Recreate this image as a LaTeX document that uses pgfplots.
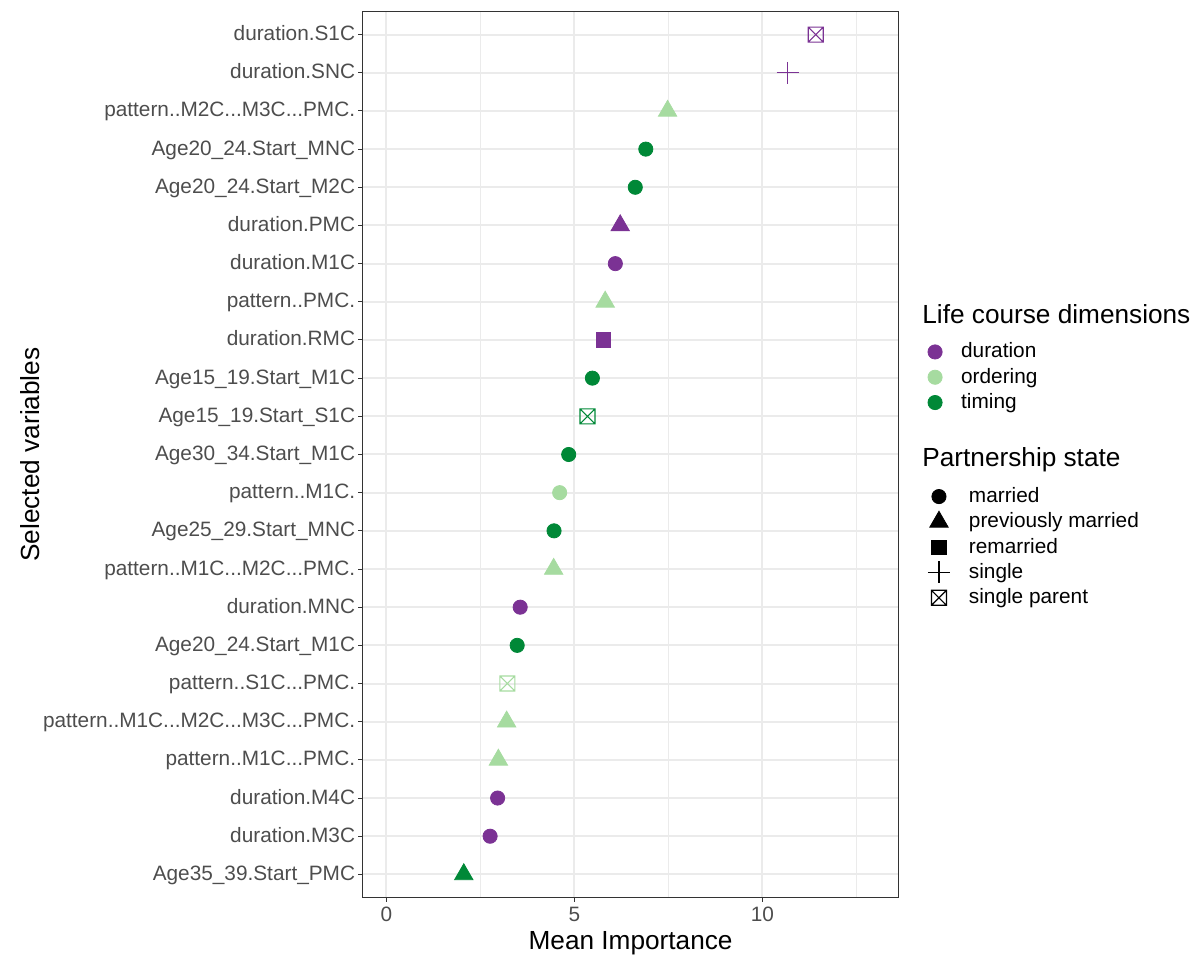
\documentclass[border=0pt]{standalone}
\usepackage{fontspec}
\setmainfont{Liberation Sans}
\usepackage{pgfplots}
\pgfplotsset{compat=1.18}

\definecolor{cdur}{HTML}{7B3294}
\definecolor{cord}{HTML}{A6DBA0}
\definecolor{ctim}{HTML}{008837}
\definecolor{gridc}{HTML}{EBEBEB}
\definecolor{tickc}{HTML}{4D4D4D}
\definecolor{borderc}{HTML}{333333}

\newcommand{\ylab}[1]{\ifcase#1 Age35\_39.Start\_PMC\or duration.M3C\or duration.M4C\or pattern..M1C...PMC.\or pattern..M1C...M2C...M3C...PMC.\or pattern..S1C...PMC.\or Age20\_24.Start\_M1C\or duration.MNC\or pattern..M1C...M2C...PMC.\or Age25\_29.Start\_MNC\or pattern..M1C.\or Age30\_34.Start\_M1C\or Age15\_19.Start\_S1C\or Age15\_19.Start\_M1C\or duration.RMC\or pattern..PMC.\or duration.M1C\or duration.PMC\or Age20\_24.Start\_M2C\or Age20\_24.Start\_MNC\or pattern..M2C...M3C...PMC.\or duration.SNC\or duration.S1C\fi}

\pgfdeclareplotmark{boxx}{%
 \pgfpathrectangle{\pgfpoint{-\pgfplotmarksize}{-\pgfplotmarksize}}{\pgfpoint{2\pgfplotmarksize}{2\pgfplotmarksize}}%
 \pgfpathmoveto{\pgfpoint{-\pgfplotmarksize}{-\pgfplotmarksize}}%
 \pgfpathlineto{\pgfpoint{\pgfplotmarksize}{\pgfplotmarksize}}%
 \pgfpathmoveto{\pgfpoint{-\pgfplotmarksize}{\pgfplotmarksize}}%
 \pgfpathlineto{\pgfpoint{\pgfplotmarksize}{-\pgfplotmarksize}}%
 \pgfusepathqstroke}

\pgfplotsset{
 circ/.style={only marks, mark=*, mark size=3.55pt, color=#1, mark options={solid, line width=0.4pt}},
 tri/.style={only marks, mark=triangle*, mark size=5.3pt, color=#1, mark options={solid, line width=0.4pt}},
 sq/.style={only marks, mark=square*, mark size=3.55pt, color=#1, mark options={solid, line width=0.4pt}},
 pls/.style={only marks, mark=+, mark size=5.5pt, color=#1, mark options={solid, line width=0.55pt}},
 bxx/.style={only marks, mark=boxx, mark size=3.75pt, color=#1, mark options={solid, line width=0.55pt}},
 legbase/.style={
  legend cell align=left,
  legend style={draw=none, fill=none, inner sep=0pt, outer sep=0pt,
   row sep={12.65pt,between origins},
   font=\fontsize{10.4}{12}\selectfont,
   nodes={inner sep=0pt},
   /tikz/every odd column/.append style={column sep=9.5pt}},
 },
}

\begin{document}
\begin{tikzpicture}
\begin{axis}[
 name=main,
 clip=false,
 scale only axis, width=267.9pt, height=442.8pt,
 xmin=-0.628, xmax=13.62, ymin=-0.6, ymax=22.6,
 xtick={0,5,10}, minor xtick={2.5,7.5,12.5},
 ytick={0,1,2,3,4,5,6,7,8,9,10,11,12,13,14,15,16,17,18,19,20,21,22},
 yticklabel={\ylab{\ticknum}},
 grid=both,
 major grid style={draw=gridc, line width=1pt},
 minor grid style={draw=gridc, line width=0.5pt},
 axis line style={draw=borderc, line width=0.5pt},
 tick align=outside, tick pos=left,
 major tick length=2.2pt, minor tick length=0pt,
 tick style={draw=borderc, line width=0.5pt},
 tick label style={font=\fontsize{10.4}{12}\selectfont, text=tickc},
 yticklabel style={anchor=east, inner sep=0pt, xshift=-1.4pt, text height=8pt, text depth=2pt},
 xticklabel style={anchor=north, inner sep=0pt, yshift=-2.5pt},
 /pgf/number format/assume math mode=true,
 xlabel={Mean Importance}, ylabel={Selected variables},
 label style={font=\fontsize{13.1}{15}\selectfont},
 x label style={at={(axis description cs:0.5,-0.0516)}, anchor=center},
 y label style={at={(axis description cs:-0.6209,0.5)}, anchor=center},
 legbase,
 legend style={at={(axis description cs:1.0550,0.6260)}, anchor=north west},
]
% timing triangle
\addplot[tri=ctim, forget plot] coordinates {(2.06,0)};
% duration circle
\addplot[circ=cdur, forget plot] coordinates {(2.76,1) (2.96,2) (3.56,7) (6.09,16)};
% ordering triangle
\addplot[tri=cord, forget plot] coordinates {(2.98,3) (3.20,4) (4.45,8) (5.82,15) (7.48,20)};
% ordering single parent
\addplot[bxx=cord, forget plot] coordinates {(3.22,5)};
% timing circle
\addplot[circ=ctim, forget plot] coordinates {(3.48,6) (4.46,9) (4.85,11) (5.48,13) (6.62,18) (6.90,19)};
% ordering circle
\addplot[circ=cord, forget plot] coordinates {(4.61,10)};
% timing single parent
\addplot[bxx=ctim, forget plot] coordinates {(5.35,12)};
% duration square
\addplot[sq=cdur, forget plot] coordinates {(5.78,14)};
% duration triangle
\addplot[tri=cdur, forget plot] coordinates {(6.22,17)};
% duration plus
\addplot[pls=cdur, forget plot] coordinates {(10.67,21)};
% duration single parent
\addplot[bxx=cdur, forget plot] coordinates {(11.42,22)};

\addlegendimage{circ=cdur}\addlegendentry{duration}
\addlegendimage{circ=cord}\addlegendentry{ordering}
\addlegendimage{circ=ctim}\addlegendentry{timing}

\node[anchor=base west, inner sep=0pt, font=\fontsize{13.1}{15}\selectfont] at (axis description cs:1.0439,0.6479) {Life course dimensions};
\node[anchor=base west, inner sep=0pt, font=\fontsize{13.1}{15}\selectfont] at (axis description cs:1.0439,0.4862) {Partnership state};
\end{axis}

\begin{axis}[
 scale only axis, width=267.9pt, height=442.8pt,
 xmin=-0.628, xmax=13.62, ymin=-0.6, ymax=22.6,
 hide axis,
 legbase,
 legend style={at={(axis description cs:1.0550,0.4627)}, anchor=north west},
]
\addlegendimage{circ=black}\addlegendentry{married}
\addlegendimage{tri=black}\addlegendentry{previously married}
\addlegendimage{sq=black}\addlegendentry{remarried}
\addlegendimage{pls=black}\addlegendentry{single}
\addlegendimage{bxx=black}\addlegendentry{single parent}
\end{axis}

\pgfresetboundingbox
\path ([shift={(-181.35pt,-28.35pt)}]main.south west) rectangle ([shift={(418.65pt,448.65pt)}]main.south west);
\end{tikzpicture}
\end{document}
